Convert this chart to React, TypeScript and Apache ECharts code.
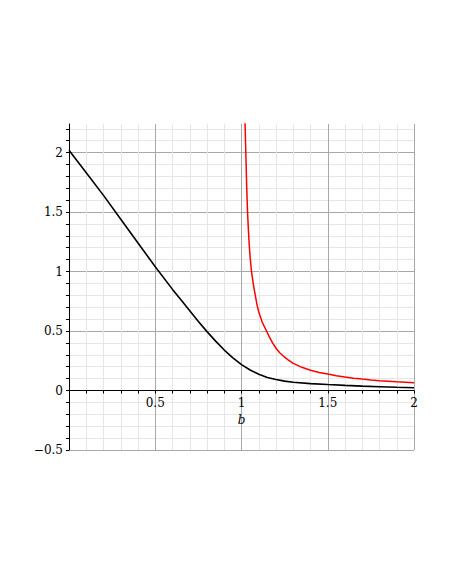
import React, { useEffect, useRef } from "react";
import * as echarts from "echarts";

// Black curve
const blackX = [0, 0.1, 0.2, 0.3, 0.4, 0.5, 0.6, 0.65, 0.7, 0.75, 0.8, 0.85, 0.9, 0.95, 1.0, 1.05, 1.1, 1.15, 1.2, 1.25, 1.3, 1.4, 1.5, 1.6, 1.7, 1.8, 1.9, 2.0];
const blackY = [2.02, 1.83, 1.64, 1.44, 1.24, 1.04, 0.85, 0.76, 0.67, 0.58, 0.495, 0.415, 0.34, 0.275, 0.218, 0.172, 0.137, 0.11, 0.092, 0.079, 0.07, 0.058, 0.05, 0.043, 0.037, 0.032, 0.027, 0.023];

// Red curve
const redX = [1.015, 1.02, 1.025, 1.03, 1.035, 1.04, 1.045, 1.05, 1.058, 1.07, 1.08, 1.09, 1.1, 1.12, 1.145, 1.16, 1.18, 1.2, 1.22, 1.25, 1.27, 1.3, 1.35, 1.4, 1.45, 1.5, 1.55, 1.6, 1.65, 1.7, 1.75, 1.8, 1.85, 1.9, 1.95, 2.0];
const redY = [2.6, 2.28, 2.0, 1.72, 1.5, 1.35, 1.22, 1.12, 1.0, 0.88, 0.8, 0.72, 0.66, 0.575, 0.5, 0.455, 0.4, 0.355, 0.32, 0.28, 0.258, 0.228, 0.195, 0.17, 0.152, 0.138, 0.125, 0.114, 0.104, 0.096, 0.089, 0.083, 0.078, 0.073, 0.069, 0.065];

// Tick labels
const xTickValues = [0.5, 1, 1.5, 2];
const xTickLabels = ["0.5", "1", "1.5", "2"];
const yTickValues = [-0.5, 0, 0.5, 1, 1.5, 2];
const yTickLabels = ["\u22120.5", "0", "0.5", "1", "1.5", "2"];

const FONT = "DejaVu Serif";
const MAJOR = "#a8a8a8";
const MINOR = "#e6e6e6";

function findLabel(v: number, vals: number[], labels: string[]) {
  for (let i = 0; i < vals.length; i++) {
    if (Math.abs(vals[i] - v) < 1e-6) return labels[i];
  }
  return "";
}

export default function App() {
  const ref = useRef<HTMLDivElement>(null);
  useEffect(() => {
    if (!ref.current) return;
    const chart = echarts.init(ref.current, undefined, { renderer: "svg" });
    const gridColors = [MAJOR, MINOR, MINOR, MINOR, MINOR];
    chart.setOption({
      animation: false,
      backgroundColor: "#ffffff",
      grid: { left: 69, right: 36, top: 124, bottom: 132, containLabel: false },
      xAxis: {
        type: "value",
        min: 0,
        max: 2,
        interval: 0.1,
        name: "b",
        nameLocation: "middle",
        nameGap: -41,
        nameTextStyle: { fontFamily: FONT, fontStyle: "italic", fontSize: 12, color: "#000" },
        axisLine: { show: true, onZero: true, lineStyle: { color: "#000", width: 1 } },
        axisTick: { show: true, length: 3, lineStyle: { color: "#000" } },
        axisLabel: {
          margin: -53,
          fontFamily: FONT,
          fontSize: 12,
          color: "#000",
          formatter: (v: number) => findLabel(v, xTickValues, xTickLabels),
        },
        splitLine: { show: true, lineStyle: { color: gridColors, width: 1 } },
      },
      yAxis: {
        type: "value",
        min: -0.5,
        max: 2.24,
        interval: 0.1,
        axisLine: { show: true, onZero: true, lineStyle: { color: "#000", width: 1 } },
        axisTick: { show: true, length: 3, lineStyle: { color: "#000" } },
        axisLabel: {
          margin: 6,
          fontFamily: FONT,
          fontSize: 12,
          color: "#000",
          showMaxLabel: false,
          formatter: (v: number) => findLabel(v, yTickValues, yTickLabels),
        },
        splitLine: { show: true, showMaxLine: false, lineStyle: { color: gridColors, width: 1 } },
      },
      series: [
        {
          type: "line",
          data: blackX.map((x, i) => [x, blackY[i]]),
          showSymbol: false,
          smooth: false,
          clip: true,
          lineStyle: { color: "#000000", width: 1.6 },
        },
        {
          type: "line",
          data: redX.map((x, i) => [x, redY[i]]),
          showSymbol: false,
          smooth: false,
          clip: true,
          lineStyle: { color: "#ff0000", width: 1.5 },
        },
      ],
    });
    return () => chart.dispose();
  }, []);
  return (
    <div
      ref={ref}
      style={{ position: "absolute", left: 0, top: 0, width: 450, height: 582, background: "#fff" }}
    />
  );
}
